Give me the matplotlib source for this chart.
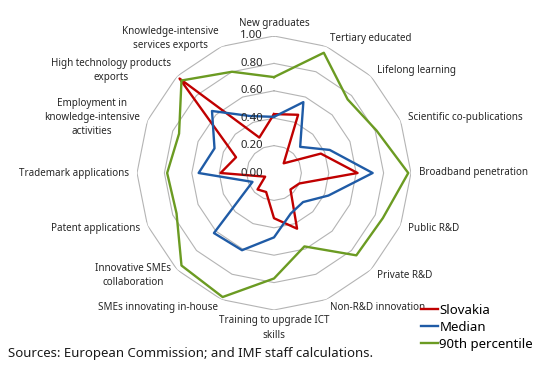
import numpy as np
import matplotlib
matplotlib.use("Agg")
import matplotlib.pyplot as plt

plt.rcParams['font.family'] = ['Noto Sans', 'DejaVu Sans']

categories = ['New graduates', 'Tertiary educated', 'Lifelong learning',
              'Scientific co-publications', 'Broadband penetration', 'Public R&D',
              'Private R&D', 'Non-R&D innovation', 'Training to upgrade ICT\nskills',
              'SMEs innovating in-house', 'Innovative SMEs\ncollaboration',
              'Patent applications', 'Trademark applications',
              'Employment in\nknowledge-intensive\nactivities',
              'High technology products\nexports',
              'Knowledge-intensive\nservices exports']

slovakia = [0.43, 0.46, 0.10, 0.37, 0.61, 0.20, 0.17, 0.44,
            0.33, 0.15, 0.17, 0.07, 0.39, 0.30, 0.975, 0.28]
median = [0.41, 0.56, 0.27, 0.44, 0.72, 0.43, 0.30, 0.32,
          0.47, 0.61, 0.62, 0.17, 0.55, 0.47, 0.64, 0.45]
p90 = [0.70, 0.95, 0.76, 0.81, 0.98, 0.86, 0.85, 0.58,
       0.77, 0.98, 0.955, 0.77, 0.78, 0.75, 0.955, 0.80]

ticks = [0.0, 0.2, 0.4, 0.6, 0.8, 1.0]

series = [('Slovakia', slovakia, '#C00000'),
          ('Median', median, '#1F5BA6'),
          ('90th percentile', p90, '#6B9B22')]

n = len(categories)
angles = np.linspace(0, 2 * np.pi, n, endpoint=False)
closed = np.append(angles, angles[0])

fig = plt.figure(figsize=(5.34, 3.65), dpi=100)
cx, cy, rx, ry = 274 / 534, 1 - 173 / 365, 137 / 534, 137 / 365
ax = fig.add_axes([cx - rx, cy - ry, 2 * rx, 2 * ry], projection='polar')
ax.set_theta_zero_location('N')
ax.set_theta_direction(-1)
ax.set_ylim(0, 1)
ax.set_xticks([])
ax.set_yticks([])
ax.grid(False)
ax.spines['polar'].set_visible(False)
ax.patch.set_visible(False)

# polygon rings
for t in ticks[1:]:
    ax.plot(closed, [t] * (n + 1), color='#B4B4B4', lw=0.8, zorder=1)

for t in ticks:
    ax.annotate(f'{t:.2f}', xy=(0, t), xytext=(-11, 0), textcoords='offset pixels',
                ha='right', va='center', fontsize=8.2, color='#262626', zorder=5)

for name, vals, col in series:
    ax.plot(closed, vals + vals[:1], color=col, lw=1.7, label=name, zorder=3)

for ang, lab in zip(angles, categories):
    deg = np.degrees(ang)
    if deg == 0:
        ha, va, r = 'center', 'center', 1.09
    elif deg == 180:
        ha, va, r = 'center', 'top', 1.04
    elif deg < 180:
        ha, va, r = 'left', 'center', 1.06
    else:
        ha, va, r = 'right', 'center', 1.06
    ax.text(ang, r, lab, ha=ha, va=va, fontsize=7.1, color='#262626',
            multialignment='center', linespacing=1.4)

ax.legend(loc='upper left', bbox_to_anchor=(421 / 534, 1 - 304 / 365),
          bbox_transform=fig.transFigure, frameon=False, fontsize=9.5,
          handlelength=1.3, handletextpad=0.1, labelspacing=0.3, borderpad=0,
          borderaxespad=0)

fig.text(8 / 534, 1 - 354 / 365, 'Sources: European Commission; and IMF staff calculations.',
         ha='left', va='center', fontsize=9.5, color='#1a1a1a')

fig.savefig('out.png', dpi=100)
